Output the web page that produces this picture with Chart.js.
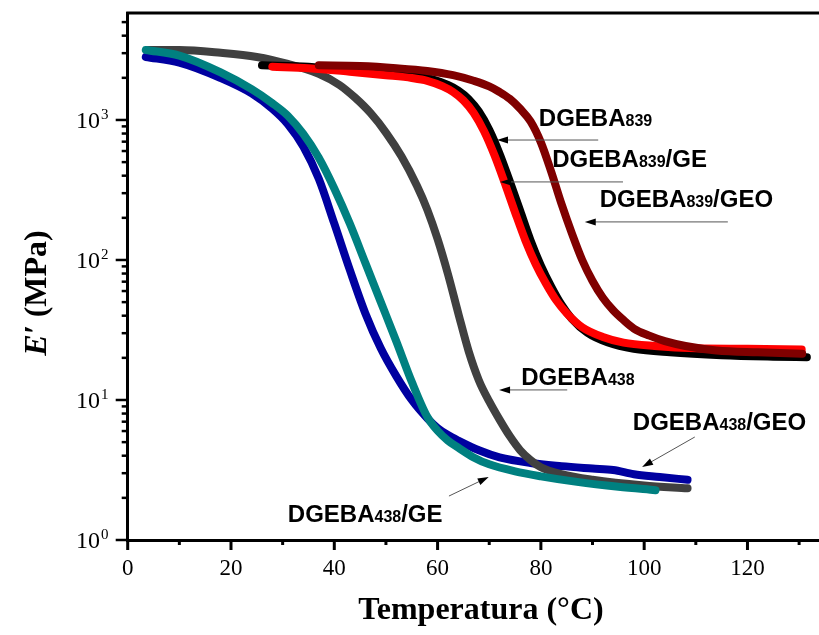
<!DOCTYPE html>
<html>
<head>
<meta charset="utf-8">
<title>E' vs Temperatura</title>
<script src="https://cdn.jsdelivr.net/npm/chart.js@4.4.1/dist/chart.umd.min.js"></script>
<style>
	html, body { margin: 0; padding: 0; background: #fff; }
	#grafico { display: block; }
</style>
</head>
<body>
<canvas id="grafico" width="819" height="635"></canvas>
<script>
// DADOS

const temp438Geo = [3.5, 10, 18, 24, 28, 31, 34, 37, 40, 43, 46, 49, 52, 55, 58, 60, 62, 64, 68, 72, 78, 84, 90, 94, 98, 103, 108.4];
const mod438Geo = [2818, 2570, 1995, 1549, 1202, 933, 646, 380, 182, 85.1, 41.7, 23.4, 14.8, 10, 7.41, 6.31, 5.62, 5.13, 4.37, 3.89, 3.55, 3.37, 3.24, 3.16, 2.95, 2.82, 2.69];

const temp438Ge = [3.5, 10, 18, 24, 28, 31, 34, 37, 40, 43, 46, 49, 52, 55, 58, 60, 62, 64, 67, 70, 75, 80, 87, 95, 102.2];
const mod438Ge = [3162, 2884, 2188, 1660, 1318, 1072, 794, 537, 324, 182, 95.5, 50.1, 26.3, 13.5, 7.59, 6.03, 5.13, 4.57, 3.89, 3.47, 3.09, 2.85, 2.6, 2.4, 2.27];

const temp438 = [4, 10, 18, 25, 31, 37, 41, 44, 47, 50, 53, 56, 58, 60, 62, 64, 66, 68, 70, 72, 74, 76, 78, 80, 84, 90, 100, 108.4];
const mod438 = [3162, 3162, 3020, 2818, 2512, 2138, 1778, 1445, 1122, 813, 550, 339, 229, 141, 79.4, 41.7, 22.4, 13.8, 9.77, 7.24, 5.5, 4.37, 3.72, 3.31, 2.95, 2.69, 2.45, 2.34];

const temp839 = [28, 35, 43, 50, 55, 58, 61, 63, 65, 67, 69, 71, 73, 75, 77, 79, 81, 83, 85, 88, 92, 96, 102, 110, 120, 130.5];
const mod839 = [2399, 2344, 2213, 2089, 1995, 1905, 1738, 1585, 1380, 1122, 832, 562, 355, 219, 138, 93.3, 67.6, 51.3, 41.7, 33.1, 28.2, 25.7, 24.3, 23.4, 23.2, 22.9];

const temp839Ge = [26, 35, 43, 50, 56, 59, 62, 64, 66, 68, 70, 72, 74, 76, 78, 80, 82, 84, 86, 89, 93, 98, 105, 115, 125, 131.5];
const mod839Ge = [2455, 2399, 2265, 2138, 2042, 1950, 1778, 1622, 1413, 1148, 851, 575, 363, 224, 138, 91.2, 64.6, 47.9, 38, 30.2, 25.7, 23.2, 21.9, 20.9, 20.4, 20.2];

const temp839Geo = [37, 45, 52, 58, 63, 67, 70, 72, 74, 76, 78, 80, 82, 84, 86, 88, 90, 92, 94, 96, 98, 101, 104, 108, 114, 122, 130.6];
const mod839Geo = [2455, 2427, 2344, 2239, 2089, 1905, 1738, 1585, 1413, 1202, 977, 692, 427, 251, 155, 100, 70.8, 53.7, 43.7, 37.2, 32.4, 28.8, 26.3, 24.3, 22.6, 21.9, 21.4];

const xTicks = [0, 20, 40, 60, 80, 100, 120];
const xMinor = [10, 30, 50, 70, 90, 110, 130];
const yExp = [0, 1, 2, 3];

function pontos(tx, ey) {
	return tx.map((t, i) => ({ x: t, y: ey[i] }));
}

// RÓTULOS E SETAS (coordenadas em unidades do gráfico)
const anotacoes = [
	{ nome: 'DGEBA', sub: '839', fim: '', tx: 79.6, ty: 906, seta: [91.1, 719, 71.5, 719] },
	{ nome: 'DGEBA', sub: '839', fim: '/GE', tx: 82.2, ty: 462, seta: [95.9, 361, 72.1, 361] },
	{ nome: 'DGEBA', sub: '839', fim: '/GEO', tx: 91.4, ty: 239, seta: [116.2, 187, 88.5, 187] },
	{ nome: 'DGEBA', sub: '438', fim: '', tx: 76.2, ty: 12.8, seta: [85.1, 11.8, 71.9, 11.8] },
	{ nome: 'DGEBA', sub: '438', fim: '/GEO', tx: 97.8, ty: 6.1, seta: [109.8, 5.44, 99.6, 3.32] },
	{ nome: 'DGEBA', sub: '438', fim: '/GE', tx: 31.0, ty: 1.35, seta: [62.2, 2.06, 69.9, 2.82] },
];

const SERIF = '"Liberation Serif", "Times New Roman", serif';
const SANS = '"Liberation Sans", Arial, sans-serif';

function seta(ctx, x1, y1, x2, y2) {
	const ang = Math.atan2(y2 - y1, x2 - x1);
	ctx.save();
	ctx.strokeStyle = '#555';
	ctx.lineWidth = 1;
	ctx.beginPath();
	ctx.moveTo(x1, y1);
	ctx.lineTo(x2 - 8 * Math.cos(ang), y2 - 8 * Math.sin(ang));
	ctx.stroke();
	ctx.fillStyle = '#000';
	ctx.translate(x2, y2);
	ctx.rotate(ang);
	ctx.beginPath();
	ctx.moveTo(0, 0);
	ctx.lineTo(-11, -3.5);
	ctx.lineTo(-11, 3.5);
	ctx.closePath();
	ctx.fill();
	ctx.restore();
}

const moldura = {
	id: 'moldura',
	afterDraw(chart) {
		const ctx = chart.ctx;
		const a = chart.chartArea;
		const sx = chart.scales.x;
		const sy = chart.scales.y;
		ctx.save();

		// borda superior
		ctx.strokeStyle = '#000';
		ctx.lineWidth = 3;
		ctx.beginPath();
		ctx.moveTo(a.left - 1.5, a.top);
		ctx.lineTo(a.right + 2, a.top);
		ctx.stroke();

		// ticks do eixo x
		ctx.lineWidth = 3;
		xTicks.concat(xMinor).forEach(v => {
			const px = sx.getPixelForValue(v);
			const len = xTicks.includes(v) ? 10 : 5;
			ctx.beginPath();
			ctx.moveTo(px, a.bottom);
			ctx.lineTo(px, a.bottom + len);
			ctx.stroke();
		});
		ctx.fillStyle = '#000';
		ctx.font = '23px ' + SERIF;
		ctx.textAlign = 'center';
		ctx.textBaseline = 'middle';
		xTicks.forEach(v => ctx.fillText(String(v), sx.getPixelForValue(v), 569));

		// ticks do eixo y (log)
		ctx.lineWidth = 2.5;
		yExp.forEach(e => {
			for (let m = 1; m <= 9; m++) {
				const v = m * Math.pow(10, e);
				if (v > sy.max) break;
				const py = sy.getPixelForValue(v);
				const len = m === 1 ? 12 : 6;
				ctx.beginPath();
				ctx.moveTo(a.left, py);
				ctx.lineTo(a.left - len, py);
				ctx.stroke();
			}
			const py = sy.getPixelForValue(Math.pow(10, e));
			ctx.textAlign = 'right';
			ctx.font = '24px ' + SERIF;
			ctx.fillText('10', 100, py + 2);
			ctx.textAlign = 'left';
			ctx.font = '15px ' + SERIF;
			ctx.fillText(String(e), 101, py - 5);
		});

		// título eixo x
		ctx.textAlign = 'center';
		ctx.font = 'bold 32px ' + SERIF;
		ctx.fillText('Temperatura (\u00B0C)', 481, 611);

		// título eixo y
		ctx.save();
		ctx.translate(38, 293);
		ctx.rotate(-Math.PI / 2);
		ctx.textAlign = 'left';
		ctx.font = 'italic bold 32px ' + SERIF;
		const w1 = ctx.measureText('E\u2032').width;
		ctx.font = 'bold 32px ' + SERIF;
		const w2 = ctx.measureText(' (MPa)').width;
		const x0 = -(w1 + w2) / 2;
		ctx.font = 'italic bold 32px ' + SERIF;
		ctx.fillText('E\u2032', x0, 0);
		ctx.font = 'bold 32px ' + SERIF;
		ctx.fillText(' (MPa)', x0 + w1, 0);
		ctx.restore();

		// anotações
		ctx.textBaseline = 'alphabetic';
		ctx.textAlign = 'left';
		anotacoes.forEach(an => {
			const s = an.seta;
			seta(ctx, sx.getPixelForValue(s[0]), sy.getPixelForValue(s[1]),
				sx.getPixelForValue(s[2]), sy.getPixelForValue(s[3]));
			let x = sx.getPixelForValue(an.tx);
			const y = sy.getPixelForValue(an.ty);
			ctx.font = 'bold 24px ' + SANS;
			ctx.fillText(an.nome, x, y);
			x += ctx.measureText(an.nome).width;
			ctx.font = 'bold 16px ' + SANS;
			ctx.fillText(an.sub, x, y);
			x += ctx.measureText(an.sub).width;
			ctx.font = 'bold 24px ' + SANS;
			ctx.fillText(an.fim, x, y);
		});

		ctx.restore();
	},
};

function serie(rotulo, tx, ey, cor, ordem) {
	return {
		label: rotulo,
		data: pontos(tx, ey),
		borderColor: cor,
		backgroundColor: cor,
		borderWidth: 8,
		borderCapStyle: 'round',
		borderJoinStyle: 'round',
		pointRadius: 0,
		cubicInterpolationMode: 'monotone',
		order: ordem,
	};
}

new Chart(document.getElementById('grafico'), {
	type: 'line',
	data: {
		datasets: [
			serie('DGEBA839/GEO', temp839Geo, mod839Geo, '#800000', 1),
			serie('DGEBA839', temp839, mod839, '#ff0000', 2),
			serie('DGEBA839/GE', temp839Ge, mod839Ge, '#000000', 3),
			serie('DGEBA438/GE', temp438Ge, mod438Ge, '#008080', 4),
			serie('DGEBA438', temp438, mod438, '#404040', 5),
			serie('DGEBA438/GEO', temp438Geo, mod438Geo, '#0000a0', 6),
		],
	},
	options: {
		responsive: false,
		animation: false,
		devicePixelRatio: 1,
		layout: { padding: { top: 13, right: 0, left: 0, bottom: 0 } },
		plugins: {
			legend: { display: false },
			tooltip: { enabled: false },
		},
		scales: {
			x: {
				type: 'linear',
				min: 0,
				max: 133.85,
				grid: { display: false },
				ticks: { display: false },
				border: { display: true, color: '#000', width: 3 },
				afterFit: s => { s.height = 95; },
			},
			y: {
				type: 'logarithmic',
				min: 1,
				max: 5808,
				grid: { display: false },
				ticks: { display: false },
				border: { display: true, color: '#000', width: 3 },
				afterFit: s => { s.width = 127.7; },
			},
		},
	},
	plugins: [moldura],
});
</script>
</body>
</html>
